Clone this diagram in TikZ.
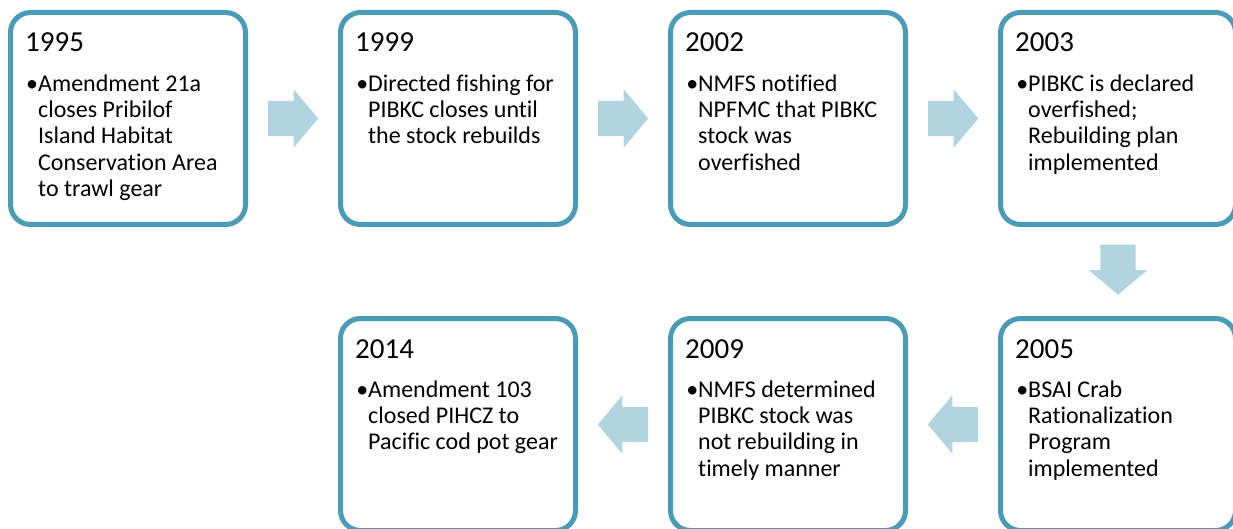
\documentclass[tikz,border=0pt]{standalone}
\usepackage{fontspec}
\setmainfont{Carlito}[Ligatures=NoCommon]
\usetikzlibrary{positioning,shapes.arrows,calc}
\definecolor{boxline}{RGB}{74,155,181}
\definecolor{arrowfill}{RGB}{177,212,224}
\tikzstyle{event}=[rectangle, draw=boxline, line width=5pt, rounded corners=20pt, fill=white,
        minimum width=235pt, minimum height=212pt, inner sep=0pt]
\tikzstyle{year}=[anchor=base west, inner sep=0pt, font=\fontsize{29}{34}\selectfont]
\tikzstyle{note}=[anchor=north west, inner sep=0pt, align=left, font=\fontsize{24}{26.3}\selectfont]
\tikzstyle{flow}=[single arrow, fill=arrowfill, draw=none, minimum height=50pt, anchor=tail,
        single arrow head extend=11.5pt, single arrow tip angle=100, inner xsep=0pt, inner ysep=17.5pt]

\begin{document}
\begin{tikzpicture}[node distance=90pt]
        \clip (0,0) rectangle (1233pt,-529pt);
        % top row, left to right
        \node (e1995) [event] at (128pt,-118.5pt) {};
        \node (e1999) [event, right=of e1995] {};
        \node (e2002) [event, right=of e1999] {};
        \node (e2003) [event, right=of e2002] {};
        % bottom row, right to left
        \node (e2005) [event, below=89pt of e2003] {};
        \node (e2009) [event, left=of e2005] {};
        \node (e2014) [event, left=of e2009] {};

        \node (y1995) [year] at ([shift={(17pt,-42pt)}]e1995.north west) {1995};
        \node (n1995) [note] at ([shift={(30pt,-62.6pt)}]e1995.north west)
        {\llap{•}\strut Amendment 21a\\closes Pribilof\\Island Habitat\\Conservation Area\\to trawl gear};
        \node (y1999) [year] at ([shift={(17pt,-42pt)}]e1999.north west) {1999};
        \node (n1999) [note] at ([shift={(30pt,-62.6pt)}]e1999.north west)
        {\llap{•}\strut Directed fishing for\\PIBKC closes until\\the stock rebuilds};
        \node (y2002) [year] at ([shift={(17pt,-42pt)}]e2002.north west) {2002};
        \node (n2002) [note] at ([shift={(30pt,-62.6pt)}]e2002.north west)
        {\llap{•}\strut NMFS notified\\NPFMC that PIBKC\\stock was\\overfished};
        \node (y2003) [year] at ([shift={(17pt,-42pt)}]e2003.north west) {2003};
        \node (n2003) [note] at ([shift={(30pt,-62.6pt)}]e2003.north west)
        {\llap{•}\strut PIBKC is declared\\overfished;\\Rebuilding plan\\implemented};
        \node (y2005) [year] at ([shift={(17pt,-42pt)}]e2005.north west) {2005};
        \node (n2005) [note] at ([shift={(30pt,-62.6pt)}]e2005.north west)
        {\llap{•}\strut BSAI Crab\\Rationalization\\Program\\implemented};
        \node (y2009) [year] at ([shift={(17pt,-42pt)}]e2009.north west) {2009};
        \node (n2009) [note] at ([shift={(30pt,-62.6pt)}]e2009.north west)
        {\llap{•}\strut NMFS determined\\PIBKC stock was\\not rebuilding in\\timely manner};
        \node (y2014) [year] at ([shift={(17pt,-42pt)}]e2014.north west) {2014};
        \node (n2014) [note] at ([shift={(30pt,-62.6pt)}]e2014.north west)
        {\llap{•}\strut Amendment 103\\closed PIHCZ to\\Pacific cod pot gear};

        % block arrows between the boxes, tail 25pt before the middle of the gap
        \node (a1) [flow] at ($(e1995.east)!0.5!(e1999.west)+(-25pt,0)$) {};
        \node (a2) [flow] at ($(e1999.east)!0.5!(e2002.west)+(-25pt,0)$) {};
        \node (a3) [flow] at ($(e2002.east)!0.5!(e2003.west)+(-25pt,0)$) {};
        \node (a4) [flow, rotate=-90] at ($(e2003.south)!0.5!(e2005.north)+(0,27pt)$) {};
        \node (a5) [flow, rotate=180] at ($(e2005.west)!0.5!(e2009.east)+(25pt,0)$) {};
        \node (a6) [flow, rotate=180] at ($(e2009.west)!0.5!(e2014.east)+(25pt,0)$) {};
\end{tikzpicture}
\end{document}
